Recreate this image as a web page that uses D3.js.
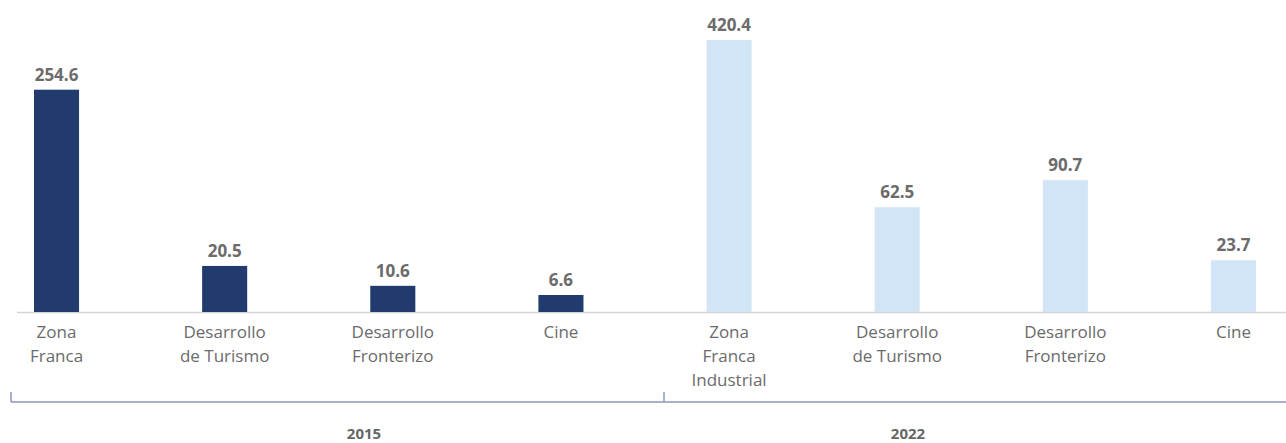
<!DOCTYPE html>
<html>
<head>
<meta charset="utf-8">
<script src="https://cdn.jsdelivr.net/npm/d3@7"></script>
<style>
  body { margin: 0; background: #fff; }
  text { font-family: "Open Sans", Lato, sans-serif; }
</style>
</head>
<body>
<div id="chart"></div>
<script>
// data
const years = ["2015", "2022"];
const categories = [
    ["Zona", "Franca"], ["Desarrollo", "de Turismo"], ["Desarrollo", "Fronterizo"], ["Cine"],
    ["Zona", "Franca", "Industrial"], ["Desarrollo", "de Turismo"], ["Desarrollo", "Fronterizo"], ["Cine"]
];
const barYears = ["2015", "2015", "2015", "2015", "2022", "2022", "2022", "2022"];
const values = [254.6, 20.5, 10.6, 6.6, 420.4, 62.5, 90.7, 23.7];

const colors = {"2015": "#213b6e", "2022": "#d1e5f6"};

let width = 1286, height = 443;
let baseY = 312;

let svg = d3.select("#chart").append("svg")
    .attr("width", width)
    .attr("height", height);

// x position of each bar
let x = d3.scaleBand()
    .domain(d3.range(values.length))
    .range([34, 1256])
    .paddingInner(0.732)
    .paddingOuter(0);

// the bars are not drawn linearly in the original, symlog gets close
let y = d3.scaleSymlog()
    .constant(40)
    .domain([0, 420.4])
    .range([baseY, 40]);

// baseline
svg.append("line")
    .attr("x1", 17).attr("x2", width)
    .attr("y1", baseY + 0.5).attr("y2", baseY + 0.5)
    .attr("stroke", "#d4d4d4")
    .attr("stroke-width", 1.5);

// bars
svg.selectAll(".bar")
    .data(values)
    .enter().append("rect")
    .attr("class", "bar")
    .attr("x", (d, i) => x(i))
    .attr("width", x.bandwidth())
    .attr("y", d => y(d))
    .attr("height", d => baseY - y(d))
    .attr("fill", (d, i) => colors[barYears[i]]);

// value labels
svg.selectAll(".val")
    .data(values)
    .enter().append("text")
    .attr("class", "val")
    .attr("x", (d, i) => x(i) + x.bandwidth() / 2)
    .attr("y", d => y(d) - 9)
    .attr("text-anchor", "middle")
    .attr("font-size", "17px")
    .attr("font-weight", "bold")
    .attr("fill", "#6b6b6b")
    .text(d => d.toFixed(1));

// category labels
let cat = svg.selectAll(".cat")
    .data(categories)
    .enter().append("text")
    .attr("class", "cat")
    .attr("text-anchor", "middle")
    .attr("font-size", "17px")
    .attr("fill", "#6b6b6b")
    .attr("transform", (d, i) => `translate(${x(i) + x.bandwidth() / 2}, 338)`);

cat.selectAll("tspan")
    .data(d => d)
    .enter().append("tspan")
    .attr("x", 0)
    .attr("y", (d, i) => i * 24)
    .text(d => d);

// year bracket
let bracketY = 402;
svg.append("line")
    .attr("x1", 11).attr("x2", width)
    .attr("y1", bracketY).attr("y2", bracketY)
    .attr("stroke", "#8a98b8")
    .attr("stroke-width", 1.5);

[11, 664].forEach(function (tx) {
    svg.append("line")
        .attr("x1", tx).attr("x2", tx)
        .attr("y1", bracketY - 10).attr("y2", bracketY)
        .attr("stroke", "#8a98b8")
        .attr("stroke-width", 1.5);
});

// year labels centred under their groups
let yearCenters = {"2015": 364, "2022": 908};
svg.selectAll(".year")
    .data(years)
    .enter().append("text")
    .attr("class", "year")
    .attr("x", d => yearCenters[d])
    .attr("y", 439)
    .attr("text-anchor", "middle")
    .attr("font-size", "15px")
    .attr("font-weight", "bold")
    .attr("fill", "#666")
    .text(d => d);
</script>
</body>
</html>
